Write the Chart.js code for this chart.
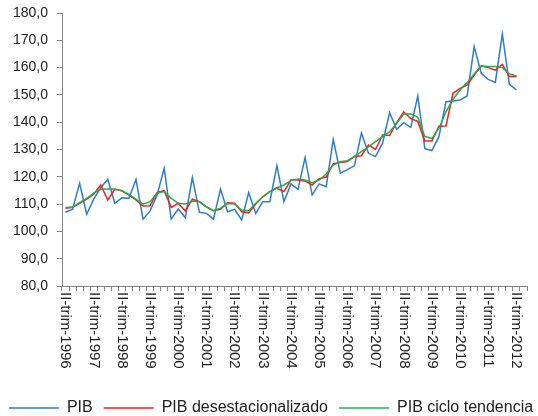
<!DOCTYPE html>
<html>
<head>
<meta charset="utf-8">
<script src="https://cdn.jsdelivr.net/npm/chart.js"></script>
<style>
  body { margin: 0; background: #fff; }
  #wrap { width: 538px; height: 416px; }
</style>
</head>
<body>
<div id="wrap"><canvas id="pibChart"></canvas></div>
<script>
// PIB trimestral, II-1996 .. III-2012 (last quarter empty)

const romans = ['I', 'II', 'III', 'IV'];
const quarters = [];
for (let y = 1996; y <= 2012; y++) {
  for (let q = 0; q < 4; q++) {
    if (y === 1996 && q === 0) continue;
    if (y === 2012 && q === 3) continue;
    quarters.push(romans[q] + '-trim-' + y);
  }
}

const pib = [
  107.0, 108.1, 117.6, 106.3, 111.8, 116.0, 119.1, 110.3, 112.3, 112.1,
  119.1, 104.5, 107.5, 113.3, 123.1, 104.5, 108.2, 105.0, 119.7, 107.0,
  106.6, 104.5, 115.5, 107.2, 108.1, 104.2, 114.2, 106.6, 110.9, 110.9,
  124.1, 110.9, 117.4, 115.4, 127.1, 113.3, 117.4, 116.4, 133.7, 121.3,
  122.6, 124.0, 136.0, 128.6, 127.4, 132.3, 143.5, 137.4, 139.8, 138.1,
  149.6, 130.3, 129.6, 134.7, 147.5, 147.8, 148.1, 149.6, 167.7, 157.9,
  155.7, 154.6, 172.3, 153.9, 151.8, null
];

const pibDesest = [
  108.5, 108.8, 110.3, 111.8, 113.6, 117.0, 111.5, 115.4, 114.9, 113.3,
  111.5, 109.3, 109.4, 114.3, 114.9, 108.8, 110.3, 107.5, 111.8, 110.9,
  109.0, 107.6, 108.1, 110.5, 110.3, 107.2, 106.8, 110.0, 112.7, 114.6,
  115.8, 114.6, 118.8, 118.8, 118.5, 117.0, 119.3, 119.9, 124.8, 125.2,
  125.6, 127.4, 127.7, 131.6, 130.0, 135.3, 135.1, 139.8, 143.8, 141.3,
  140.3, 133.1, 133.1, 138.5, 138.6, 150.6, 152.4, 153.6, 157.3, 160.6,
  160.0, 159.1, 161.2, 156.7, 156.7, null
];

const pibTendencia = [
  108.8, 108.9, 110.5, 112.1, 114.0, 115.4, 115.5, 115.5, 114.9, 113.6,
  111.8, 110.0, 110.9, 114.0, 114.6, 112.1, 110.3, 110.0, 111.1, 110.9,
  109.0, 107.6, 108.5, 110.2, 110.0, 107.8, 107.6, 110.3, 112.7, 114.6,
  116.0, 117.0, 118.6, 119.2, 118.8, 117.8, 118.8, 121.0, 124.3, 125.5,
  125.9, 127.4, 129.2, 131.0, 132.9, 134.7, 136.5, 139.5, 143.0, 143.0,
  141.8, 134.8, 134.0, 137.8, 143.8, 148.4, 151.8, 154.5, 157.7, 160.6,
  160.4, 160.4, 160.0, 157.7, 156.9, null
];

const seriesNames = ['PIB', 'PIB desestacionalizado', 'PIB ciclo tendencia'];
const seriesColors = ['#2A7DD2', '#FF1A1A', '#1FAF4F'];

const axisColor = '#868686';
const textColor = '#222';
const fontFamily = "'Liberation Sans', Arial, sans-serif";

Chart.defaults.font.family = fontFamily;
Chart.defaults.color = textColor;

// x labels read top-to-bottom (Excel style) + legend with line samples
const excelDecor = {
  id: 'excelDecor',
  afterDraw(chart) {
    const ctx = chart.ctx;
    const x = chart.scales.x;

    ctx.save();
    ctx.fillStyle = textColor;
    ctx.font = '15px ' + fontFamily;
    ctx.textAlign = 'left';
    ctx.textBaseline = 'middle';
    quarters.forEach((q, i) => {
      if (i % 4 !== 0) return;
      ctx.save();
      ctx.translate(x.getPixelForValue(i), x.top + 6);
      ctx.rotate(Math.PI / 2);
      ctx.fillText(q, 0, 0);
      ctx.restore();
    });

    // legend
    ctx.font = '16px ' + fontFamily;
    const lineLen = 50, gapText = 8, gapItem = 11, ly = 408;
    const widths = seriesNames.map(n => ctx.measureText(n).width);
    let total = gapItem * (seriesNames.length - 1);
    widths.forEach(w => total += lineLen + gapText + w);
    let cx = (chart.width - total) / 2 + 2;
    seriesNames.forEach((n, i) => {
      ctx.strokeStyle = seriesColors[i];
      ctx.lineWidth = 1.5;
      ctx.beginPath();
      ctx.moveTo(cx, ly);
      ctx.lineTo(cx + lineLen, ly);
      ctx.stroke();
      cx += lineLen + gapText;
      ctx.fillText(n, cx, ly);
      cx += widths[i] + gapItem;
    });
    ctx.restore();
  }
};

const ctx = document.getElementById('pibChart');

new Chart(ctx, {
  type: 'line',

  data: {
    labels: quarters,

    datasets: [
      {
        label: seriesNames[0],
        data: pib,
        borderColor: seriesColors[0],
        borderWidth: 1.5,
        pointRadius: 0,
        tension: 0,
        order: 2
      },
      {
        label: seriesNames[1],
        data: pibDesest,
        borderColor: seriesColors[1],
        borderWidth: 1.5,
        pointRadius: 0,
        tension: 0,
        order: 1
      },
      {
        label: seriesNames[2],
        data: pibTendencia,
        borderColor: seriesColors[2],
        borderWidth: 1.5,
        pointRadius: 0,
        tension: 0,
        order: 0
      }
    ]
  },

  options: {
    responsive: true,
    maintainAspectRatio: false,
    animation: false,
    layout: {
      padding: { top: 13, right: 11, bottom: 0, left: 0 }
    },

    plugins: {
      legend: { display: false },
      tooltip: { enabled: false }
    },

    scales: {
      x: {
        type: 'category',
        offset: true,
        grid: {
          offset: true,
          drawOnChartArea: false,
          tickLength: 5,
          color: axisColor
        },
        border: { color: axisColor },
        ticks: { display: false, autoSkip: false },
        afterFit(scale) { scale.height = 130; }
      },

      y: {
        min: 80,
        max: 180,
        grid: {
          drawOnChartArea: false,
          tickLength: 5,
          color: axisColor
        },
        border: { color: axisColor },
        ticks: {
          stepSize: 10,
          padding: 9,
          color: textColor,
          font: { size: 14 },
          callback: v => v.toFixed(1).replace('.', ',')
        },
        afterFit(scale) {
          scale.width = 62;
          scale.paddingTop = 0;
          scale.paddingBottom = 0;
        }
      }
    }
  },

  plugins: [excelDecor]
});
</script>
</body>
</html>
